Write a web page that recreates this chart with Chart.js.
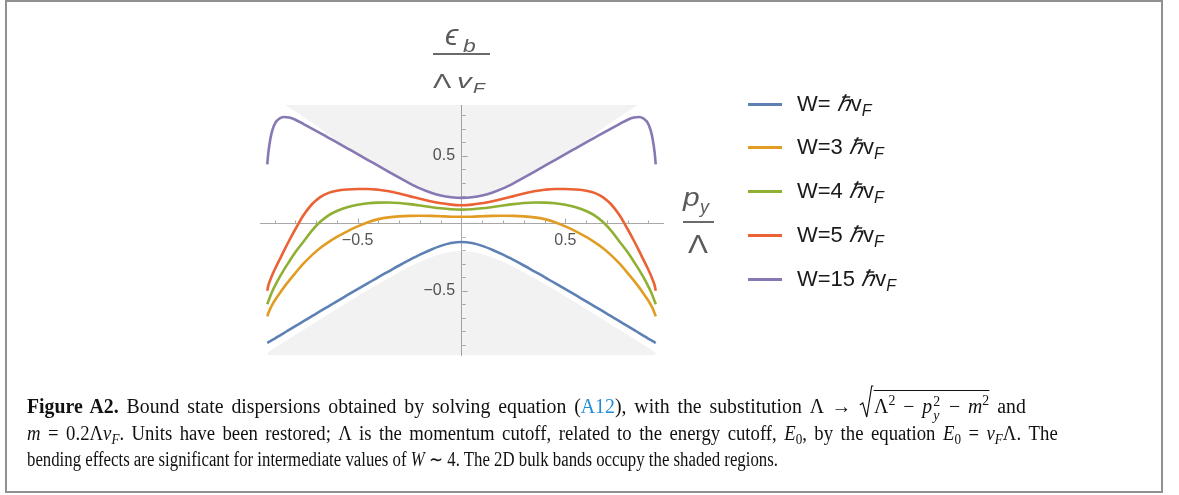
<!DOCTYPE html>
<html>
<head>
<meta charset="utf-8">
<script src="https://cdn.jsdelivr.net/npm/chart.js@4.4.1/dist/chart.umd.min.js"></script>
<style>
  body { margin: 0; background: #fff; }
  #fig { position: relative; width: 1179px; height: 495px; overflow: hidden; font-family: "Liberation Sans", Arial, sans-serif; }
  #frame { position: absolute; left: 5px; top: 0; width: 1158px; height: 493px; box-sizing: border-box; border: 2px solid #909090; }
  #chart { position: absolute; left: 0; top: 0; }
  .lab { position: absolute; line-height: 1; white-space: nowrap; color: #5a5a5a; transform-origin: 0 0; }
  .bar { position: absolute; height: 2px; background: #6a6a6a; }
  #legend { position: absolute; left: 0; top: 0; }
  .item { position: absolute; left: 748px; height: 22px; line-height: 22px; font-size: 22px; white-space: nowrap; color: #1a1a1a; }
  .item .swatch { position: absolute; left: 0; top: 10px; width: 34px; height: 3px; }
  .item .txt { position: absolute; left: 49px; top: 0; }
  .item sub { font-size: 16px; font-style: italic; vertical-align: baseline; position: relative; top: 5px; }
  .cap { position: absolute; left: 27px; white-space: nowrap; font-family: "Liberation Serif", "Times New Roman", serif; font-size: 20px; line-height: 1; color: #111; transform-origin: 0 0; }
  .cap .sb { font-size: 14px; position: relative; top: 4px; }
  .cap .sp { font-size: 14px; position: relative; top: -8px; }
  .ref { color: #1f8dd6; }
  .stk { display: inline-block; position: relative; width: 9px; height: 1px; }
  .stk .a { position: absolute; left: 1px; top: -17px; font-size: 14px; }
  .stk .b { position: absolute; left: 1px; top: -3px; font-size: 14px; font-style: italic; }
  .rad { display: inline-block; position: relative; width: 15px; height: 1px; }
  .rad svg { position: absolute; left: 0; top: -27px; }
  .ov { border-top: 1px solid #111; padding-top: 4px; }
</style>
</head>
<body>
<div id="fig">
  <div id="frame"></div>
  <canvas id="chart" width="1179" height="495"></canvas>

  <!-- vertical axis label: eps_b / (Lambda v_F) -->
  <div class="lab" style="left:445px;top:20px;font-size:30px;font-style:italic;">&#x3F5;</div>
  <div class="lab" style="left:463px;top:36px;font-size:19px;font-style:italic;transform:scaleX(1.2);">b</div>
  <div class="bar" style="left:433px;top:53px;width:57px;"></div>
  <div class="lab" style="left:433px;top:70px;font-size:21px;transform:scaleX(1.3);">&Lambda;</div>
  <div class="lab" style="left:457px;top:70px;font-size:21px;font-style:italic;transform:scaleX(1.4);">v</div>
  <div class="lab" style="left:473px;top:80px;font-size:15px;font-style:italic;transform:scaleX(1.3);">F</div>

  <!-- horizontal axis label: p_y / Lambda -->
  <div class="lab" style="left:683px;top:184px;font-size:26px;font-style:italic;transform:scaleX(1.15);">p</div>
  <div class="lab" style="left:700px;top:198px;font-size:18px;font-style:italic;">y</div>
  <div class="bar" style="left:683px;top:221px;width:31px;"></div>
  <div class="lab" style="left:688px;top:231px;font-size:26px;transform:scaleX(1.15);">&Lambda;</div>

  <div id="legend"></div>

  <div class="cap" id="cap1" style="top:396px;"><b>Figure A2.</b> Bound state dispersions obtained by solving equation (<span class="ref">A12</span>), with the substitution &Lambda; &rarr; <span class="rad"><svg width="15" height="34" viewBox="0 0 15 34"><path d="M1 20 L4 18 L8 32 L13 1 L15 1" fill="none" stroke="#111" stroke-width="1.2"/></svg></span><span class="ov">&Lambda;<span class="sp">2</span> &minus; <i>p</i><span class="stk"><span class="a">2</span><span class="b">y</span></span> &minus; <i>m</i><span class="sp">2</span></span> and</div>
  <div class="cap" id="cap2" style="top:423px;"><i>m</i> = 0.2&Lambda;<i>v</i><span class="sb"><i>F</i></span>. Units have been restored; &Lambda; is the momentum cutoff, related to the energy cutoff, <i>E</i><span class="sb">0</span>, by the equation <i>E</i><span class="sb">0</span> = <i>v</i><span class="sb"><i>F</i></span>&Lambda;. The</div>
  <div class="cap" id="cap3" style="top:449px;">bending effects are significant for intermediate values of <i>W</i> &sim; 4. The 2D bulk bands occupy the shaded regions.</div>
</div>

<script>
// p_y / Lambda, shared by all bound-state curves
const momentum = [-0.935, -0.93, -0.92, -0.91, -0.895, -0.875, -0.855, -0.83, -0.8, -0.76, -0.72, -0.68, -0.64, -0.6, -0.55, -0.5, -0.45, -0.4, -0.35, -0.3, -0.25, -0.2, -0.15, -0.1, -0.05,
  0,
  0.05, 0.1, 0.15, 0.2, 0.25, 0.3, 0.35, 0.4, 0.45, 0.5, 0.55, 0.6, 0.64, 0.68, 0.72, 0.76, 0.8, 0.83, 0.855, 0.875, 0.895, 0.91, 0.92, 0.93, 0.935];

// eps_b / (Lambda v_F) for each W
const energyW1 = [-0.886, -0.881, -0.872, -0.863, -0.850, -0.831, -0.813, -0.789, -0.761, -0.725, -0.688, -0.651, -0.615, -0.579, -0.533, -0.488, -0.444, -0.399, -0.356, -0.313, -0.272, -0.233, -0.198, -0.168, -0.147,
  -0.139,
  -0.147, -0.168, -0.198, -0.233, -0.272, -0.313, -0.356, -0.399, -0.444, -0.488, -0.533, -0.579, -0.615, -0.651, -0.688, -0.725, -0.761, -0.789, -0.813, -0.831, -0.850, -0.863, -0.872, -0.881, -0.886];
const energyW3 = [-0.689, -0.668, -0.630, -0.600, -0.563, -0.518, -0.475, -0.425, -0.369, -0.298, -0.236, -0.183, -0.140, -0.102, -0.060, -0.024, 0.007, 0.030, 0.043, 0.050, 0.054, 0.055, 0.054, 0.051, 0.048,
  0.047,
  0.048, 0.051, 0.054, 0.055, 0.054, 0.050, 0.043, 0.030, 0.007, -0.024, -0.060, -0.102, -0.140, -0.183, -0.236, -0.298, -0.369, -0.425, -0.475, -0.518, -0.563, -0.600, -0.630, -0.668, -0.689];
const energyW4 = [-0.600, -0.578, -0.538, -0.502, -0.455, -0.398, -0.345, -0.285, -0.215, -0.135, -0.055, 0.010, 0.058, 0.090, 0.118, 0.136, 0.147, 0.152, 0.153, 0.149, 0.141, 0.131, 0.120, 0.110, 0.103,
  0.100,
  0.103, 0.110, 0.120, 0.131, 0.141, 0.149, 0.153, 0.152, 0.147, 0.136, 0.118, 0.090, 0.058, 0.010, -0.055, -0.135, -0.215, -0.285, -0.345, -0.398, -0.455, -0.502, -0.538, -0.578, -0.600];
const energyW5 = [-0.500, -0.462, -0.418, -0.380, -0.330, -0.268, -0.205, -0.130, -0.045, 0.060, 0.140, 0.193, 0.224, 0.240, 0.249, 0.253, 0.253, 0.247, 0.236, 0.220, 0.200, 0.180, 0.162, 0.148, 0.137,
  0.133,
  0.137, 0.148, 0.162, 0.180, 0.200, 0.220, 0.236, 0.247, 0.253, 0.253, 0.249, 0.240, 0.224, 0.193, 0.140, 0.060, -0.045, -0.130, -0.205, -0.268, -0.330, -0.380, -0.418, -0.462, -0.500];
const energyW15 = [0.435, 0.520, 0.625, 0.690, 0.745, 0.775, 0.785, 0.781, 0.765, 0.733, 0.700, 0.666, 0.631, 0.597, 0.554, 0.511, 0.467, 0.424, 0.380, 0.337, 0.295, 0.257, 0.227, 0.205, 0.192,
  0.187,
  0.192, 0.205, 0.227, 0.257, 0.295, 0.337, 0.380, 0.424, 0.467, 0.511, 0.554, 0.597, 0.631, 0.666, 0.700, 0.733, 0.765, 0.781, 0.785, 0.775, 0.745, 0.690, 0.625, 0.520, 0.435];

// lower edge of the shaded upper bulk band, and upper edge of the lower band
const upperBandP = [-0.85, -0.8, -0.76, -0.72, -0.68, -0.64, -0.6, -0.55, -0.5, -0.45, -0.4, -0.35, -0.3, -0.25, -0.2, -0.15, -0.1, -0.05,
  0,
  0.05, 0.1, 0.15, 0.2, 0.25, 0.3, 0.35, 0.4, 0.45, 0.5, 0.55, 0.6, 0.64, 0.68, 0.72, 0.76, 0.8, 0.85];
const upperBand = [0.874, 0.826, 0.785, 0.744, 0.700, 0.652, 0.605, 0.558, 0.515, 0.471, 0.428, 0.384, 0.341, 0.299, 0.261, 0.231, 0.209, 0.196,
  0.191,
  0.196, 0.209, 0.231, 0.261, 0.299, 0.341, 0.384, 0.428, 0.471, 0.515, 0.558, 0.605, 0.652, 0.700, 0.744, 0.785, 0.826, 0.874];
const lowerBand = [-0.960, -0.955, -0.944, -0.933, -0.918, -0.898, -0.879, -0.854, -0.825, -0.787, -0.749, -0.710, -0.672, -0.634, -0.587, -0.540, -0.494, -0.449, -0.406, -0.363, -0.323, -0.286, -0.254, -0.228, -0.211,
  -0.205,
  -0.211, -0.228, -0.254, -0.286, -0.323, -0.363, -0.406, -0.449, -0.494, -0.540, -0.587, -0.634, -0.672, -0.710, -0.749, -0.787, -0.825, -0.854, -0.879, -0.898, -0.918, -0.933, -0.944, -0.955, -0.960];

const seriesNames = ['W= ℏv_F', 'W=3 ℏv_F', 'W=4 ℏv_F', 'W=5 ℏv_F', 'W=15 ℏv_F'];
const seriesColors = ['rgb(94,129,181)', 'rgb(225,156,36)', 'rgb(143,176,50)', 'rgb(235,98,53)', 'rgb(135,120,179)'];
const seriesValues = [energyW1, energyW3, energyW4, energyW5, energyW15];

const majorTicks = [-0.5, 0.5];
const axisGray = '#a8a8a8';
const tickFont = { family: '"Liberation Sans", Arial, sans-serif', size: 16 };

function pairs(xs, ys) {
    return xs.map((x, i) => ({ x: x, y: ys[i] }));
}

function tickLabel(v) {
    for (const m of majorTicks) {
        if (Math.abs(v - m) < 1e-6) return m < 0 ? '\u2212' + Math.abs(m) : String(m);
    }
    return '';
}

// short Mathematica-style ticks on the axes through the origin
const axisTicks = {
    id: 'axisTicks',
    beforeDatasetsDraw(chart) {
        const { ctx, scales: { x, y } } = chart;
        const x0 = Math.round(x.getPixelForValue(0)) + 0.5;
        const y0 = Math.round(y.getPixelForValue(0)) + 0.5;
        ctx.save();
        ctx.strokeStyle = axisGray;
        ctx.lineWidth = 1;
        ctx.beginPath();
        for (let k = -9; k <= 9; k++) {
            if (k === 0) continue;
            const v = k / 10;
            const len = majorTicks.includes(v) ? 5 : 3;
            if (v >= x.min && v <= x.max) {
                const px = Math.round(x.getPixelForValue(v)) + 0.5;
                ctx.moveTo(px, y0);
                ctx.lineTo(px, y0 - len);
            }
            if (v >= y.min && v <= y.max) {
                const py = Math.round(y.getPixelForValue(v)) + 0.5;
                ctx.moveTo(x0, py);
                ctx.lineTo(x0 + len, py);
            }
        }
        ctx.stroke();
        ctx.restore();
    }
};

const datasets = seriesNames.map((name, i) => ({
    label: name,
    data: pairs(momentum, seriesValues[i]),
    borderColor: seriesColors[i],
    backgroundColor: seriesColors[i],
    borderWidth: 2.6,
    pointRadius: 0,
    cubicInterpolationMode: 'monotone',
    fill: false,
    order: 1
}));
datasets.push({
    label: 'bulk upper',
    data: pairs(upperBandP, upperBand),
    borderWidth: 0,
    pointRadius: 0,
    cubicInterpolationMode: 'monotone',
    backgroundColor: 'rgba(0,0,0,0.05)',
    fill: 'end',
    order: 5
});
datasets.push({
    label: 'bulk lower',
    data: pairs(momentum, lowerBand),
    borderWidth: 0,
    pointRadius: 0,
    cubicInterpolationMode: 'monotone',
    backgroundColor: 'rgba(0,0,0,0.05)',
    fill: 'start',
    order: 5
});

const chart = new Chart(document.getElementById('chart'), {
    type: 'line',
    data: { datasets: datasets },
    options: {
        responsive: false,
        animation: false,
        devicePixelRatio: 1,
        events: [],
        layout: { padding: { left: 260, right: 516, top: 105, bottom: 140 } },
        plugins: { legend: { display: false }, tooltip: { enabled: false } },
        scales: {
            x: {
                type: 'linear', min: -0.97, max: 0.97,
                position: { y: 0 },
                grid: { display: false, drawTicks: false },
                border: { display: true, color: axisGray, width: 1 },
                ticks: { stepSize: 0.1, autoSkip: false, maxRotation: 0, minRotation: 0, padding: 8, color: '#555', font: tickFont, callback: tickLabel },
                afterFit: (s) => { s.height = 0; }
            },
            y: {
                type: 'linear', min: -0.975, max: 0.874,
                position: { x: 0 },
                grid: { display: false, drawTicks: false },
                border: { display: true, color: axisGray, width: 1 },
                // labels of a y axis placed at x=0 sit flush on the axis, so pad them with thin spaces
                ticks: { stepSize: 0.1, autoSkip: false, color: '#555', font: tickFont, callback: (v) => { const t = tickLabel(v); return t ? t + '\u2009\u2009' : ''; } },
                afterFit: (s) => { s.width = 0; }
            }
        }
    },
    plugins: [axisTicks]
});

// legend built from the chart's own datasets
const legend = document.getElementById('legend');
chart.data.datasets.slice(0, seriesNames.length).forEach((ds, i) => {
    const item = document.createElement('div');
    item.className = 'item';
    item.style.top = (92.5 + i * 43.9) + 'px';
    const txt = ds.label.replace('ℏv_F', '<i>ℏ</i>v<sub>F</sub>');
    item.innerHTML = '<span class="swatch" style="background:' + ds.borderColor + '"></span><span class="txt">' + txt + '</span>';
    legend.appendChild(item);
});

// squeeze each caption line to the width of the printed line
[['cap1', 999, 3], ['cap2', 1031, 3], ['cap3', 751, 0]].forEach(([id, w, gap]) => {
    const el = document.getElementById(id);
    el.style.wordSpacing = gap + 'px';
    el.style.transform = 'scaleX(' + (w / el.offsetWidth) + ')';
});
</script>
</body>
</html>
